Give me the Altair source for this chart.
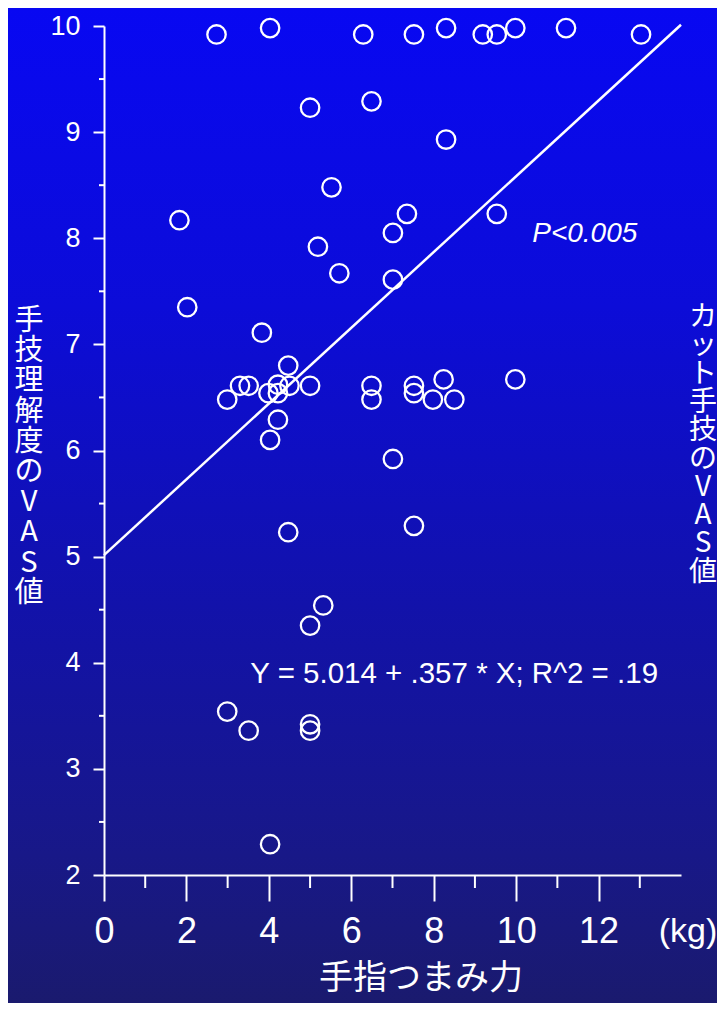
import altair as alt
import pandas as pd

# ---- data ----
grip_kg = [2.73, 4.03, 6.29, 7.52, 8.30, 9.19, 9.53, 9.98, 11.21, 13.03,
           5.00, 6.49, 8.30, 5.52, 1.83, 7.35, 9.53, 7.01, 5.19, 5.71,
           7.01, 2.02, 3.83, 4.47, 3.30, 3.51, 4.22, 3.99, 4.22, 4.50,
           5.00, 2.99, 6.49, 6.49, 4.22, 4.03, 7.01, 4.47, 7.52, 7.52,
           8.24, 7.98, 8.50, 9.98, 7.52, 5.32, 5.00, 2.99, 3.51, 5.00,
           5.00, 4.03]
vas_score = [9.92, 9.98, 9.92, 9.92, 9.98, 9.92, 9.92, 9.98, 9.98, 9.92,
             9.23, 9.29, 8.93, 8.48, 8.17, 8.23, 8.23, 8.05, 7.92, 7.67,
             7.61, 7.35, 7.11, 6.80, 6.61, 6.61, 6.62, 6.54, 6.54, 6.61,
             6.61, 6.48, 6.61, 6.48, 6.29, 6.10, 5.92, 5.23, 6.61, 6.54,
             6.67, 6.48, 6.48, 6.67, 5.29, 4.54, 4.35, 3.54, 3.36, 3.42,
             3.36, 2.29]

reg_x = [0, 14]
reg_y = [5.014, 10.012]

x_major = [0, 2, 4, 6, 8, 10, 12]
x_minor = [1, 3, 5, 7, 9, 11, 13]
y_major = [2, 3, 4, 5, 6, 7, 8, 9, 10]
y_minor = [2.5, 3.5, 4.5, 5.5, 6.5, 7.5, 8.5, 9.5]

eq_text = "Y = 5.014 + .357 * X; R^2 = .19"
eq_pos = (3.55, 3.81)
p_text = "P<0.005"
p_pos = (10.39, 7.96)

left_title = list("手技理解度のVAS値")
right_title = list("カット手技のVAS値")
x_title = "手指つまみ力"
x_unit = "(kg)"

# ---- layout ----
W, H = 577, 849
PL, PT, PR, PB = 96, 18, 36, 128
WHITE = "#ffffff"
CJK = "Noto Sans CJK JP"
NARROW = "Liberation Sans Narrow, Liberation Sans, Arial"

xs = alt.Scale(domain=[0, 14], nice=False, zero=False)
ys = alt.Scale(domain=[2, 10], nice=False, zero=False)

gradient = alt.LinearGradient(
    gradient="linear", x1=0, x2=0, y1=0, y2=1,
    stops=[
        alt.GradientStop(color="#0808f2", offset=0),
        alt.GradientStop(color="#0c0cd8", offset=0.3),
        alt.GradientStop(color="#1212aa", offset=0.6),
        alt.GradientStop(color="#181888", offset=0.85),
        alt.GradientStop(color="#1a1a6e", offset=1),
    ],
)

x_axis = alt.Axis(values=x_major, title=None, grid=False, domainColor=WHITE,
                  domainWidth=2, tickColor=WHITE, tickWidth=2, tickSize=26,
                  labelColor=WHITE, labelFont=NARROW, labelFontSize=36,
                  labelPadding=13, labelFlush=False, labelOverlap=False,
                  zindex=1)
y_axis = alt.Axis(values=y_major, title=None, grid=False, domainColor=WHITE,
                  domainWidth=2, tickColor=WHITE, tickWidth=2, tickSize=11,
                  labelColor=WHITE, labelFont="Liberation Sans, Arial",
                  labelFontSize=27, labelPadding=13, labelFlush=False,
                  labelOverlap=False, zindex=1)

X = alt.X("x:Q", scale=xs, axis=x_axis)
Y = alt.Y("y:Q", scale=ys, axis=y_axis)

one = pd.DataFrame({"a": [0]})

bg = alt.Chart(one).mark_rect(fill=gradient, clip=False).encode(
    x=alt.value(-PL), x2=alt.value(W + PR),
    y=alt.value(-PT), y2=alt.value(H + PB),
)

points = alt.Chart(pd.DataFrame({"x": grip_kg, "y": vas_score})).mark_point(
    shape="circle", filled=False, size=340, strokeWidth=2.3,
    color=WHITE, opacity=1, clip=False,
).encode(x=X, y=Y)

reg = alt.Chart(pd.DataFrame({"x": reg_x, "y": reg_y})).mark_line(
    color=WHITE, strokeWidth=2.5, clip=False
).encode(x=X, y=Y)

ymin = alt.Chart(pd.DataFrame({"y": y_minor})).mark_rule(
    color=WHITE, strokeWidth=2
).encode(y=Y, x=alt.value(-5), x2=alt.value(0))

xmin = alt.Chart(pd.DataFrame({"x": x_minor})).mark_rule(
    color=WHITE, strokeWidth=2
).encode(x=X, y=alt.value(H), y2=alt.value(H + 13))

eq = alt.Chart(pd.DataFrame({"x": [eq_pos[0]], "y": [eq_pos[1]], "t": [eq_text]})).mark_text(
    align="left", baseline="alphabetic", font="Liberation Sans, Arial",
    fontSize=29.5, color=WHITE,
).encode(x=X, y=Y, text="t:N")

ptxt = alt.Chart(pd.DataFrame({"x": [p_pos[0]], "y": [p_pos[1]], "t": [p_text]})).mark_text(
    align="left", baseline="alphabetic", font="Liberation Sans, Arial",
    fontSize=28, fontStyle="italic", color=WHITE,
).encode(x=X, y=Y, text="t:N")

ltitle = alt.Chart(one).mark_text(
    align="center", baseline="top", font=CJK, fontSize=29,
    lineHeight=30.2, color=WHITE,
).encode(x=alt.value(-75), y=alt.value(281), text=alt.value(left_title))

rtitle = alt.Chart(one).mark_text(
    align="center", baseline="top", font=CJK, fontSize=28,
    lineHeight=28.3, color=WHITE,
).encode(x=alt.value(599), y=alt.value(278), text=alt.value(right_title))

xtitle = alt.Chart(one).mark_text(
    align="center", baseline="middle", font=CJK, fontSize=34, color=WHITE,
).encode(x=alt.value(317), y=alt.value(953), text=alt.value(x_title))

unit = alt.Chart(one).mark_text(
    align="center", baseline="middle", font=NARROW, fontSize=34, color=WHITE,
).encode(x=alt.value(584), y=alt.value(906), text=alt.value(x_unit))

chart = alt.layer(
    bg, points, reg, ymin, xmin, eq, ptxt, ltitle, rtitle, xtitle, unit
).properties(
    width=W, height=H,
    autosize=alt.AutoSizeParams(type="none"),
    padding={"left": PL, "top": PT, "right": PR, "bottom": PB},
    background="#1a1a6e",
).configure_view(stroke=None)

chart.save("out.html", embed_options={"renderer": "svg", "actions": False})
